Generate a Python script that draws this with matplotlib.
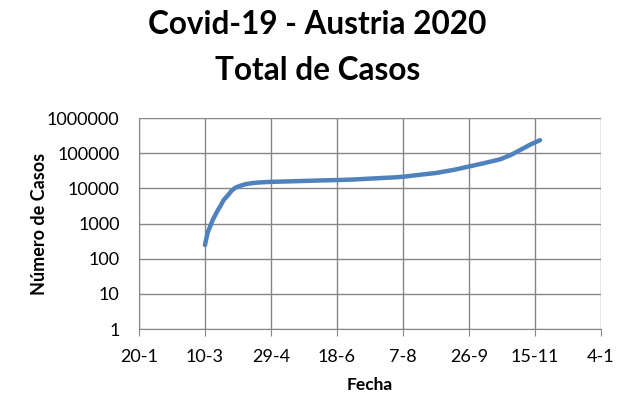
import numpy as np
import matplotlib.pyplot as plt
import matplotlib.dates as mdates
from datetime import date, timedelta

# (approximate)
fechas = ['2020-03-10', '2020-03-12', '2020-03-14', '2020-03-16', '2020-03-18',
          '2020-03-20', '2020-03-22', '2020-03-24', '2020-03-26', '2020-03-28',
          '2020-03-30', '2020-04-02', '2020-04-06', '2020-04-10', '2020-04-15',
          '2020-04-20', '2020-04-29', '2020-05-10', '2020-05-20', '2020-06-01',
          '2020-06-18', '2020-07-01', '2020-07-15', '2020-08-01', '2020-08-07',
          '2020-08-20', '2020-09-01', '2020-09-15', '2020-09-26', '2020-10-10',
          '2020-10-20', '2020-10-28', '2020-11-05', '2020-11-12', '2020-11-19']
casos = [246, 550, 850, 1300, 1800, 2500, 3300, 4600, 5600, 6800,
         8500, 10500, 12000, 13300, 14200, 14800, 15400, 15800, 16200, 16700,
         17300, 18000, 19200, 20700, 21500, 24500, 27500, 34000, 42000, 55000,
         68000, 90000, 130000, 180000, 236000]

inicio = date(2020, 1, 20)
ticks_x = [inicio + timedelta(days=50 * i) for i in range(8)]
ticks_y = [1, 10, 100, 1000, 10000, 100000, 1000000]

x = np.array(fechas, dtype='datetime64[D]')

plt.rcParams['font.family'] = ['Lato', 'DejaVu Sans']
fig = plt.figure(figsize=(6.29, 4.16), dpi=100)
ax = fig.add_axes([0.221, 0.209, 0.734, 0.507])

ax.plot(x, casos, color='#4F81BD', lw=3.2, solid_capstyle='round')
ax.set_yscale('log')
ax.set_ylim(1, 1000000)
ax.set_xlim(mdates.date2num(ticks_x[0]), mdates.date2num(ticks_x[-1]))
ax.set_xticks([mdates.date2num(d) for d in ticks_x])
ax.set_xticklabels(['%d-%d' % (d.day, d.month) for d in ticks_x])
ax.set_yticks(ticks_y)
ax.set_yticklabels([str(v) for v in ticks_y])
ax.yaxis.set_minor_locator(plt.NullLocator())

ax.grid(True, color='#868686', lw=1)
ax.set_axisbelow(True)
for s in ['top', 'right']:
    ax.spines[s].set_visible(False)
for s in ['left', 'bottom']:
    ax.spines[s].set_color('#868686')
ax.tick_params(axis='x', length=5, color='#868686', labelsize=13, pad=9)
ax.tick_params(axis='y', length=0, labelsize=13, pad=14)

ax.set_xlabel('Fecha', fontsize=12.5, fontweight='bold', labelpad=9)
ax.set_ylabel('Número de Casos', fontsize=13, fontweight='bold', labelpad=-1)
fig.suptitle('Covid-19 - Austria 2020\nTotal de Casos', fontsize=22.7,
             fontweight='bold', x=0.505, y=0.975, linespacing=1.7)

fig.savefig('out.png', dpi=100)
